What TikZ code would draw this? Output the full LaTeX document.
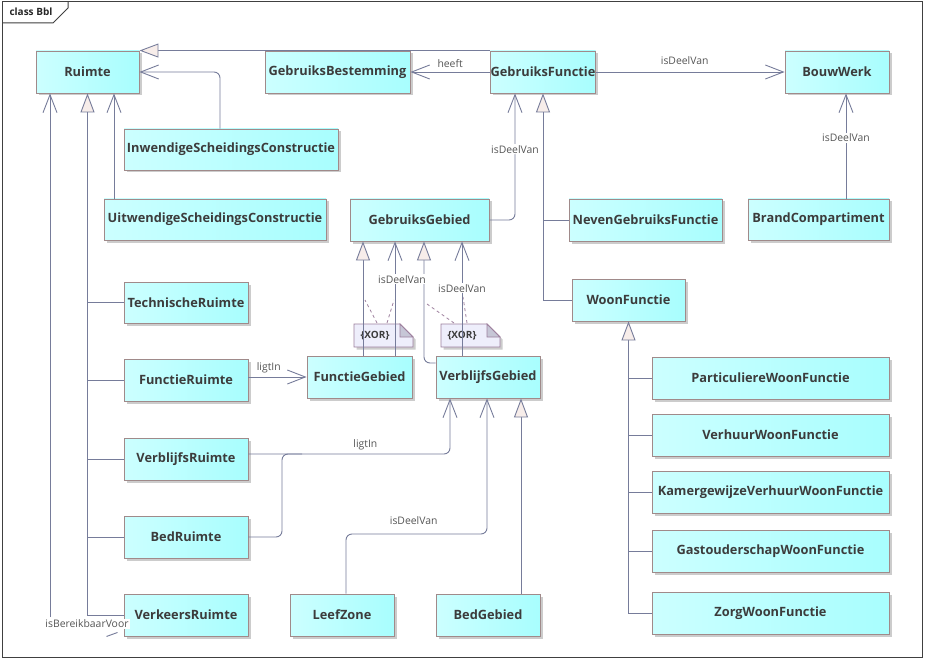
\documentclass[tikz,border=0pt]{standalone}
\usepackage{fontspec}
\setmainfont{Open Sans}
\usetikzlibrary{arrows.meta,shadows}
\definecolor{clsleft}{HTML}{CCFFFF}
\definecolor{clsright}{HTML}{A8FEFE}
\definecolor{clsborder}{HTML}{A08A8A}
\definecolor{clstext}{HTML}{3C3C3C}
\definecolor{linecol}{HTML}{767C9A}
\definecolor{trifill}{HTML}{F7EDEA}
\definecolor{notefill}{HTML}{EEEEFB}
\definecolor{noteborder}{HTML}{9E809E}
\definecolor{notefold}{HTML}{C6C6D6}
\definecolor{labelcol}{HTML}{555555}

\begin{document}
\begin{tikzpicture}[x=1pt,y=-1pt,
  cls/.style={draw=clsborder, line width=0.9pt, left color=clsleft, right color=clsright,
    minimum height=42pt, inner xsep=0.3pt, inner ysep=2pt, text=clstext, font=\bfseries\fontsize{12.8}{14}\selectfont,
    drop shadow={shadow xshift=2.5pt,shadow yshift=-2.5pt,fill=black!20,opacity=1}},
  link/.style={draw=linecol, line width=0.9pt},
  assoc/.style={link, -{Straight Barb[length=18pt,width=14pt]}},
  gen/.style={link, -{Triangle[length=19pt,width=14pt,fill=trifill]}},
  lbl/.style={font=\fontsize{10.4}{12}\selectfont, text=labelcol, inner sep=1pt},
  lblw/.style={lbl, fill=white},
  notetext/.style={font=\bfseries\fontsize{10}{11}\selectfont, text=clstext, inner sep=0pt},
  xorlink/.style={draw=noteborder, dashed, line width=0.8pt}]
  \useasboundingbox (0,0) rectangle (925,660);
  \fill[white] (0,0) rectangle (925,660);
  % frame
  \draw[black!75, line width=1pt] (2,2) rectangle (922,657);
  \draw[black!75, line width=1pt] (2,23) -- (53,23) -- (68,8) -- (68,2);
  \node[font=\bfseries\fontsize{10}{12}\selectfont, anchor=west, text=black!85] (title) at (6,12) {class Bbl};
  % classes
  \node[cls, minimum width=103pt] (ruimte) at (87.5,72) {Ruimte};
  \node[cls, minimum width=214pt, minimum height=41pt] (inwendig) at (231,149.5) {InwendigeScheidingsConstructie};
  \node[cls, minimum width=222pt, minimum height=41pt] (uitwendig) at (215,219.5) {UitwendigeScheidingsConstructie};
  \node[cls, minimum width=145pt] (bestemming) at (337.5,72) {GebruiksBestemming};
  \node[cls, minimum width=104pt] (gfunctie) at (543,72) {GebruiksFunctie};
  \node[cls, minimum width=104pt] (bouwwerk) at (837,72) {BouwWerk};
  \node[cls, minimum width=141pt, minimum height=41pt] (brand) at (818.5,219.5) {BrandCompartiment};
  \node[cls, minimum width=153pt] (neven) at (645.5,220) {NevenGebruiksFunctie};
  \node[cls, minimum width=139pt] (ggebied) at (419.5,220) {GebruiksGebied};
  \node[cls, minimum width=113pt] (woon) at (628.5,300) {WoonFunctie};
  \node[cls, minimum width=124pt, minimum height=41pt] (technisch) at (186,302.5) {TechnischeRuimte};
  \node[cls, minimum width=124pt] (fruimte) at (186,380) {FunctieRuimte};
  \node[cls, minimum width=105pt] (fgebied) at (359.5,377) {FunctieGebied};
  \node[cls, minimum width=104pt] (vgebied) at (488,377) {VerblijfsGebied};
  \node[cls, minimum width=124pt] (vruimte) at (186,459) {VerblijfsRuimte};
  \node[cls, minimum width=124pt] (bedruimte) at (186,537) {BedRuimte};
  \node[cls, minimum width=124pt] (verkeers) at (186,615) {VerkeersRuimte};
  \node[cls, minimum width=104pt] (leefzone) at (342,615) {LeefZone};
  \node[cls, minimum width=104pt] (bedgebied) at (488,615) {BedGebied};
  \foreach \n/\y/\t in {particulier/378/ParticuliereWoonFunctie, verhuur/435/VerhuurWoonFunctie,
      kamer/492/KamergewijzeVerhuurWoonFunctie, gastouder/551/GastouderschapWoonFunctie,
      zorg/613/ZorgWoonFunctie}
    \node[cls, minimum width=237pt] (\n) at (770.5,\y) {\t};
  % XOR notes
  \foreach \nx in {354,441} {
    \fill[black!20] (\nx+2.5,326.5) -- (\nx+48.5,326.5) -- (\nx+61.5,339.5) -- (\nx+61.5,349.5) -- (\nx+2.5,349.5) -- cycle;
    \draw[noteborder, fill=notefill, line width=0.8pt] (\nx,324) -- (\nx+46,324) -- (\nx+59,337) -- (\nx+59,347) -- (\nx,347) -- cycle;
    \draw[noteborder, fill=notefold, line width=0.8pt] (\nx+46,324) -- (\nx+46,337) -- (\nx+59,337) -- cycle;
    \node[notetext] (xor\nx) at (\nx+21,336) {\{XOR\}};
  }
  \draw[xorlink] (377,323) -- (365,300);
  \draw[xorlink] (387,323) -- (394,300);
  \draw[xorlink] (454,323) -- (427,304);
  \draw[xorlink] (467,323) -- (463,297);
  % Ruimte and its parts
  \coordinate (uitTop) at ([xshift=-101pt]uitwendig.north);
  \coordinate (bvEnd) at (50,617);
  \draw[gen] (gfunctie.north west) -- (ruimte.north east);
  \draw[assoc, rounded corners=6pt] ([xshift=-11pt]inwendig.north) |- (ruimte.east);
  \draw[assoc] (uitTop) -- (uitTop |- ruimte.south);
  \draw[gen] (verkeers.west) -| (ruimte.south);
  \foreach \n in {technisch,fruimte,vruimte,bedruimte}
    \draw[link] (\n.west) -- (\n.west -| ruimte.south);
  \draw[assoc] (bvEnd) -- (bvEnd |- ruimte.south);
  \node[lblw] (bvLabel) at (87,624) {isBereikbaarVoor};
  \draw[link] ([shift={(-6pt,4pt)}]verkeers.south west) -- ++(-11,4);
  % top row
  \coordinate (bcTop) at ([xshift=27.5pt]brand.north);
  \draw[assoc] (gfunctie.west) -- node[lbl, above=3pt] {heeft} (bestemming.east);
  \draw[assoc] (gfunctie.east) -- node[lbl, above=6pt, pos=0.47] {isDeelVan} (bouwwerk.west);
  \draw[assoc] (bcTop) -- node[lblw, pos=0.58] {isDeelVan} (bcTop |- bouwwerk.south);
  % gebieden
  \coordinate (fgGen) at ([xshift=3.5pt]fgebied.north);
  \coordinate (fgPart) at ([xshift=35.5pt]fgebied.north);
  \coordinate (vgGen) at ([xshift=4.5pt]ggebied.south);
  \coordinate (vgPart) at ([xshift=-26pt]vgebied.north);
  \draw[gen] (fgGen) -- (fgGen |- ggebied.south);
  \draw[gen, rounded corners=6pt] ([yshift=14pt]vgebied.west) -| (vgGen);
  \draw[assoc] (fgPart) -- node[lblw, pos=0.67, xshift=7pt] {isDeelVan} (fgPart |- ggebied.south);
  \draw[assoc] (vgPart) -- node[lblw, pos=0.59] {isDeelVan} (vgPart |- ggebied.south);
  \draw[assoc] (fgebied.west -| fruimte.east) -- node[lbl, above=3pt, pos=0.35] {ligtIn} (fgebied.west);
  % ligtIn verblijfsgebied
  \coordinate (ligtJoin) at (282,454);
  \draw[assoc, rounded corners=6pt] ([yshift=5pt]vruimte.east) -| node[lbl, pos=0.29, above=3pt] {ligtIn} ([xshift=-38pt]vgebied.south);
  \draw[link, rounded corners=6pt] (bedruimte.east) -| (ligtJoin) -- ++(20,0);
  \coordinate (lzBend) at (487,534);
  \draw[assoc, rounded corners=6pt] ([xshift=4pt]leefzone.north) |- node[lbl, pos=0.74, above=8pt] {isDeelVan} (lzBend) -- (lzBend |- vgebied.south);
  \draw[gen] ([xshift=33pt]bedgebied.north) -- ([xshift=33pt]vgebied.south);
  % functies
  \draw[assoc, rounded corners=6pt] (ggebied.east) -| node[lblw, pos=0.78] {isDeelVan} ([xshift=-28pt]gfunctie.south);
  \draw[gen] (woon.west) -| (gfunctie.south);
  \draw[link] (neven.west) -- (neven.west -| gfunctie.south);
  \draw[gen] (zorg.west) -| (woon.south);
  \foreach \n in {particulier,verhuur,kamer,gastouder}
    \draw[link] (\n.west) -- (\n.west -| woon.south);
\end{tikzpicture}
\end{document}
